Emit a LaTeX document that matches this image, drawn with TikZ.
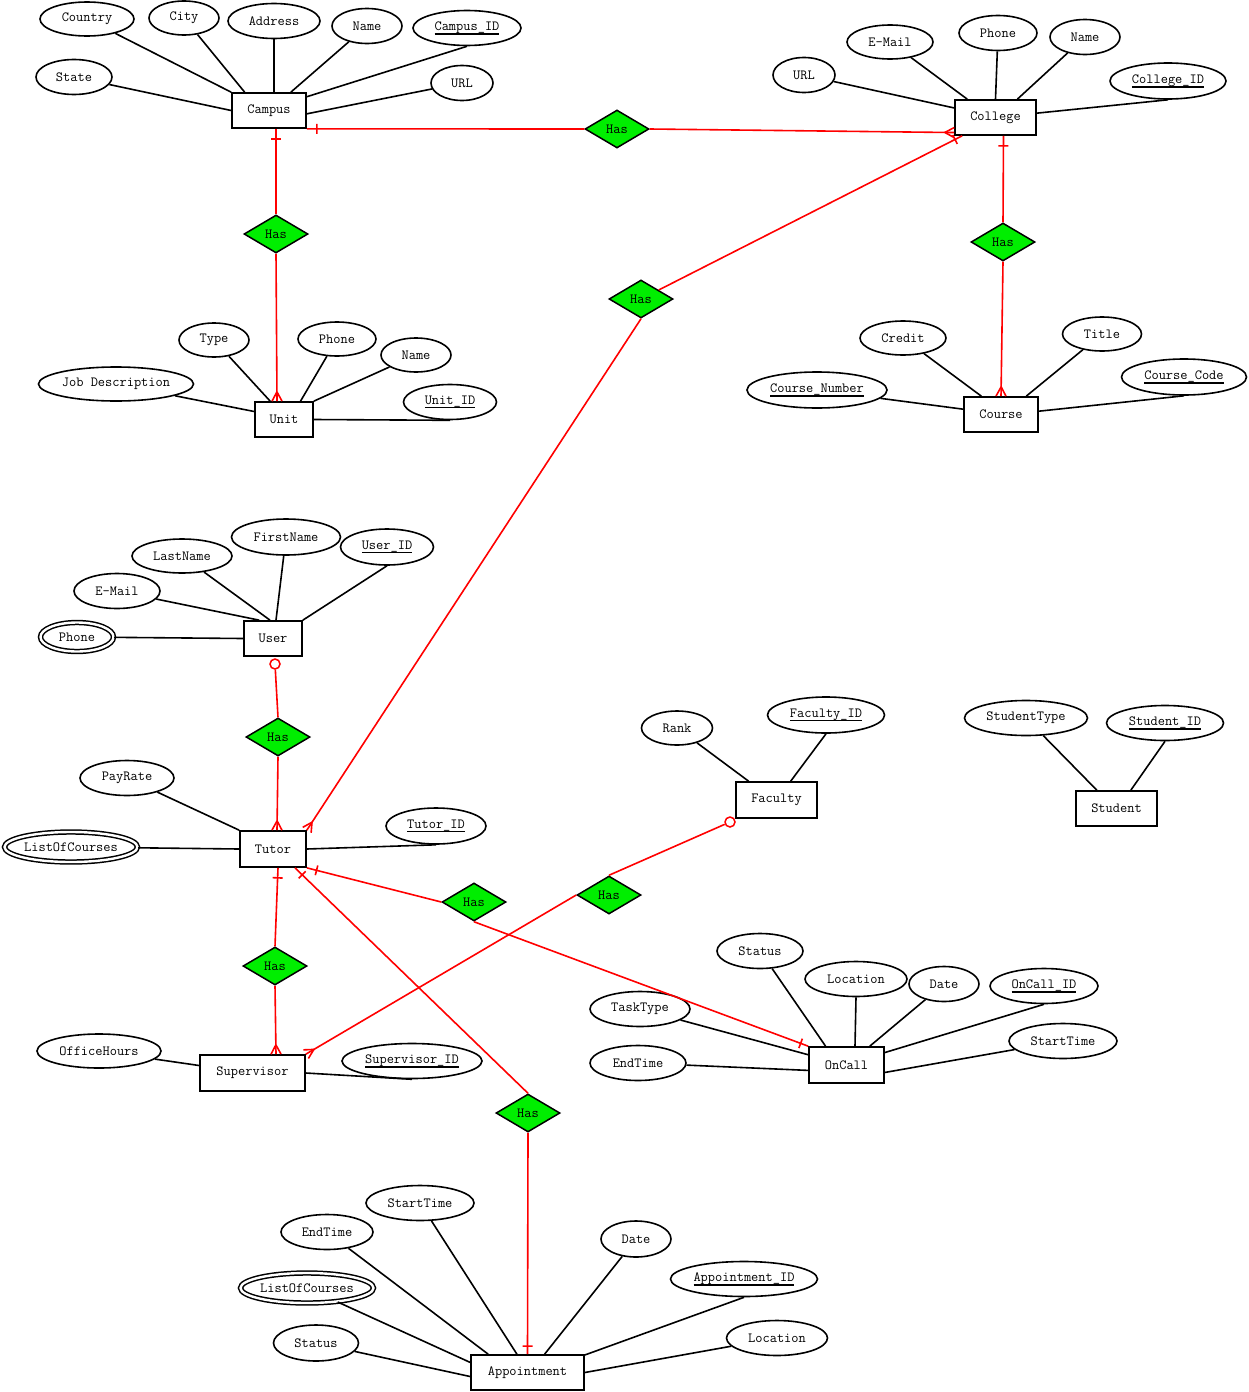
\documentclass[tikz,border=0pt]{standalone}
\usetikzlibrary{shapes.geometric,decorations.markings,calc}
\definecolor{hasgreen}{RGB}{0,238,0}
\newcommand{\keytext}[1]{\setbox0=\hbox{#1}\leavevmode\rlap{\vrule width \wd0 height -2.6pt depth 4.4pt}\box0}
\begin{document}
\begin{tikzpicture}[x=1pt,y=-1pt,
  every node/.style={font=\fontsize{14}{16}\selectfont\ttfamily},
  ent/.style={draw, line width=1.7pt, rectangle, inner sep=0pt, fill=white},
  att/.style={draw, line width=1.6pt, ellipse, inner sep=0pt},
  multi/.style={draw, ellipse, inner sep=0pt, double, double distance=2.4pt, line width=1.5pt},
  rel/.style={draw, line width=1.5pt, diamond, fill=hasgreen, inner sep=0pt, minimum width=64pt, minimum height=38pt},
  link/.style={line width=1.6pt},
  card/.style={red, line width=1.6pt},
  zero/.style={circle, draw=red, line width=1.5pt, minimum size=10pt, inner sep=0pt},
  onestart/.style={postaction=decorate, decoration={markings, mark=at position 10pt with {\draw[card] (0,-5pt) -- (0,5pt);}}},
  oneend/.style={postaction=decorate, decoration={markings, mark=at position -8pt with {\draw[card] (0,-5pt) -- (0,5pt);}}},
  manyend/.style={postaction=decorate, decoration={markings, mark=at position -0.3pt with {\draw[card] (-9pt,0) -- (0.3pt,5pt) (-9pt,0) -- (0.3pt,-5pt);}}}
]
\fill[white] (0,0) rectangle (1248,1392);
\useasboundingbox (0,0) rectangle (1248,1392);

% ---------- entities ----------
\node[ent, minimum width=74pt, minimum height=35pt] (campus) at (269,110.5) {Campus};
\node[ent, minimum width=81pt, minimum height=35pt] (college) at (995.5,117.5) {College};
\node[ent, minimum width=58pt, minimum height=35pt] (unit) at (284,419.5) {Unit};
\node[ent, minimum width=74pt, minimum height=35pt] (course) at (1001,414.5) {Course};
\node[ent, minimum width=58pt, minimum height=35pt] (user) at (273,638.5) {User};
\node[ent, minimum width=66pt, minimum height=36pt] (tutor) at (273,849) {Tutor};
\node[ent, minimum width=81pt, minimum height=36pt] (faculty) at (776.5,800) {Faculty};
\node[ent, minimum width=81pt, minimum height=35pt] (student) at (1116.5,808.5) {Student};
\node[ent, minimum width=105pt, minimum height=36pt] (supervisor) at (252.5,1073) {Supervisor};
\node[ent, minimum width=75pt, minimum height=36pt] (oncall) at (846.5,1065) {OnCall};
\node[ent, minimum width=113pt, minimum height=35pt] (appointment) at (527.5,1372.5) {Appointment};

% ---------- relationships ----------
\node[rel] (has1) at (617,129) {Has};
\node[rel] (has2) at (276,234) {Has};
\node[rel] (has3) at (641,299) {Has};
\node[rel] (has4) at (1003,242) {Has};
\node[rel] (has5) at (278,737) {Has};
\node[rel] (has6) at (474,902) {Has};
\node[rel] (has7) at (609,895) {Has};
\node[rel] (has8) at (275,966) {Has};
\node[rel] (has9) at (528,1113) {Has};

% ---------- attributes ----------
\node[att, minimum width=94pt, minimum height=34pt] (country) at (87,19) {Country};
\node[att, minimum width=70pt, minimum height=34pt] (city) at (184,18) {City};
\node[att, minimum width=92pt, minimum height=35pt] (address) at (274,21) {Address};
\node[att, minimum width=70pt, minimum height=35pt] (cname) at (367,26) {Name};
\node[att, minimum width=108pt, minimum height=35pt] (campusid) at (467,28) {\keytext{Campus\_ID}};
\node[att, minimum width=76pt, minimum height=35pt] (state) at (74,77) {State};
\node[att, minimum width=62pt, minimum height=35pt] (curl) at (462,83) {URL};

\node[att, minimum width=62pt, minimum height=35pt] (colurl) at (804,75) {URL};
\node[att, minimum width=86pt, minimum height=34pt] (colemail) at (890,42) {E-Mail};
\node[att, minimum width=78pt, minimum height=35pt] (colphone) at (998,33) {Phone};
\node[att, minimum width=70pt, minimum height=35pt] (colname) at (1085,37) {Name};
\node[att, minimum width=116pt, minimum height=36pt] (collegeid) at (1168,81) {\keytext{College\_ID}};

\node[att, minimum width=70pt, minimum height=34pt] (type) at (214,340) {Type};
\node[att, minimum width=78pt, minimum height=34pt] (uphone) at (337,339) {Phone};
\node[att, minimum width=70pt, minimum height=34pt] (uname) at (416,355) {Name};
\node[att, minimum width=155pt, minimum height=34pt] (jobdesc) at (116,384) {Job Description};
\node[att, minimum width=93pt, minimum height=35pt] (unitid) at (450,402) {\keytext{Unit\_ID}};

\node[att, minimum width=86pt, minimum height=34pt] (credit) at (903,338) {Credit};
\node[att, minimum width=79pt, minimum height=34pt] (title) at (1102,334) {Title};
\node[att, minimum width=140pt, minimum height=36pt] (cnum) at (817,390) {\keytext{Course\_Number}};
\node[att, minimum width=125pt, minimum height=36pt] (ccode) at (1184,377) {\keytext{Course\_Code}};

\node[att, minimum width=100pt, minimum height=34pt] (lastname) at (182,556) {LastName};
\node[att, minimum width=109pt, minimum height=36pt] (firstname) at (286,537) {FirstName};
\node[att, minimum width=93pt, minimum height=36pt] (userid) at (387,547) {\keytext{User\_ID}};
\node[att, minimum width=86pt, minimum height=35pt] (uemail) at (117,591) {E-Mail};
\node[multi, minimum width=73pt, minimum height=29pt] (uphonem) at (77,637) {Phone};

\node[att, minimum width=94pt, minimum height=35pt] (payrate) at (127,778) {PayRate};
\node[multi, minimum width=133pt, minimum height=30pt] (listc) at (71,847) {ListOfCourses};
\node[att, minimum width=100pt, minimum height=36pt] (tutorid) at (436,826) {\keytext{Tutor\_ID}};

\node[att, minimum width=71pt, minimum height=34pt] (rank) at (677,728) {Rank};
\node[att, minimum width=117pt, minimum height=36pt] (facid) at (826,715) {\keytext{Faculty\_ID}};
\node[att, minimum width=123pt, minimum height=35pt] (stype) at (1026,718) {StudentType};
\node[att, minimum width=117pt, minimum height=35pt] (studid) at (1165,723) {\keytext{Student\_ID}};

\node[att, minimum width=124pt, minimum height=34pt] (office) at (99,1051) {OfficeHours};
\node[att, minimum width=140pt, minimum height=35pt] (supid) at (412,1061) {\keytext{Supervisor\_ID}};

\node[att, minimum width=86pt, minimum height=35pt] (ostatus) at (760,951) {Status};
\node[att, minimum width=102pt, minimum height=35pt] (olocation) at (856,979) {Location};
\node[att, minimum width=70pt, minimum height=35pt] (odate) at (944,984) {Date};
\node[att, minimum width=108pt, minimum height=35pt] (oncallid) at (1044,986) {\keytext{OnCall\_ID}};
\node[att, minimum width=108pt, minimum height=35pt] (ostart) at (1063,1041) {StartTime};
\node[att, minimum width=100pt, minimum height=35pt] (otask) at (640,1009) {TaskType};
\node[att, minimum width=96pt, minimum height=35pt] (oend) at (638,1063) {EndTime};

\node[att, minimum width=108pt, minimum height=35pt] (astart) at (420,1203) {StartTime};
\node[att, minimum width=92pt, minimum height=35pt] (aend) at (327,1232) {EndTime};
\node[multi, minimum width=133pt, minimum height=30pt] (alist) at (307,1288) {ListOfCourses};
\node[att, minimum width=85pt, minimum height=36pt] (astatus) at (316,1343) {Status};
\node[att, minimum width=70pt, minimum height=36pt] (adate) at (636,1239) {Date};
\node[att, minimum width=147pt, minimum height=35pt] (apptid) at (744,1279) {\keytext{Appointment\_ID}};
\node[att, minimum width=101pt, minimum height=35pt] (alocation) at (777,1338) {Location};

% ---------- attribute links ----------
\draw[link] (country) -- (campus.north west);
\draw[link] (city) -- (campus.143);
\draw[link] (address) -- ([xshift=5pt]campus.north);
\draw[link] (cname) -- (campus.40);
\draw[link] (campusid.south) -- (campus.20);
\draw[link] (curl) -- (campus.-5);
\draw[link] (state) -- (campus.west);

\draw[link] (colurl) -- (college.167);
\draw[link] (colemail) -- (college.147);
\draw[link] (colphone) -- (college.north);
\draw[link] (colname) -- (college.40);
\draw[link] (collegeid.south) -- (college.6);

\draw[link] (type) -- (unit.127);
\draw[link] (uphone) -- (unit.48);
\draw[link] (uname) -- (unit.north east);
\draw[link] (jobdesc) -- (unit.165);
\draw[link] (unitid.south) -- (unit.east);

\draw[link] (credit) -- (course.137);
\draw[link] (title) -- (course.36);
\draw[link] (cnum) -- (course.172);
\draw[link] (ccode.south) -- (course.5);

\draw[link] (lastname) -- ([xshift=-3pt]user.north);
\draw[link] (firstname) -- ([xshift=3pt]user.north);
\draw[link] (userid.south) -- (user.north east);
\draw[link] (uemail) -- (user.127);
\draw[link] (uphonem) -- (user.west);

\draw[link] (payrate) -- (tutor.north west);
\draw[link] (listc) -- (tutor.west);
\draw[link] (tutorid.south) -- (tutor.east);

\draw[link] (rank) -- (faculty.146);
\draw[link] (facid.south) -- (faculty.53);
\draw[link] (stype) -- (student.137);
\draw[link] (studid.south) -- (student.52);

\draw[link] (office) -- (supervisor.172);
\draw[link] (supid.south) -- (supervisor.east);

\draw[link] (ostatus) -- (oncall.138);
\draw[link] (olocation.south) -- ([xshift=8.5pt]oncall.north);
\draw[link] (odate) -- (oncall.39);
\draw[link] (oncallid.south) -- (oncall.18);
\draw[link] (ostart) -- (oncall.-11);
\draw[link] (otask) -- (oncall.165);
\draw[link] (oend) -- (oncall.188);

\draw[link] (astart) -- (appointment.120);
\draw[link] (aend) -- (appointment.155);
\draw[link] (alist) -- (appointment.170);
\draw[link] (astatus) -- (appointment.184);
\draw[link] (adate) -- (appointment.47);
\draw[link] (apptid.south) -- (appointment.17);
\draw[link] (alocation) -- (appointment.east);

% ---------- relationship links ----------
\draw[card, onestart] (campus.south east) -- (has1.west);
\draw[card, manyend] (has1.east) -- (college.200);
\draw[card, onestart] ([xshift=7pt]campus.south) -- (has2.north);
\draw[card, manyend] (has2.south) -- ([xshift=-7pt]unit.north);
\draw[card, oneend] (has3) -- ([xshift=8pt]college.south west);
\draw[card, manyend] (has3.south) -- (tutor.north east);
\draw[card, onestart] ([xshift=8pt]college.south) -- (has4.north);
\draw[card, manyend] (has4.south) -- (course.north);
\node[zero] (zu) at (275,664) {};
\draw[card] (zu) -- (has5.north);
\draw[card, manyend] (has5.south) -- ([xshift=4pt]tutor.north);
\draw[card, onestart] (tutor.south east) -- (has6.west);
\draw[card, oneend] (has6.south) -- (oncall.north west);
\node[zero] (zf) at (730,822) {};
\draw[card] (zf) -- (has7.north);
\draw[card, manyend] (has7.west) -- (supervisor.north east);
\draw[card, onestart] ([xshift=5pt]tutor.south) -- (has8.north);
\draw[card, manyend] (has8.south) -- ([xshift=23.5pt]supervisor.north);
\draw[card, onestart] ([xshift=22pt]tutor.south) -- (has9.north);
\draw[card, oneend] (has9.south) -- (appointment.north);
\end{tikzpicture}
\end{document}
